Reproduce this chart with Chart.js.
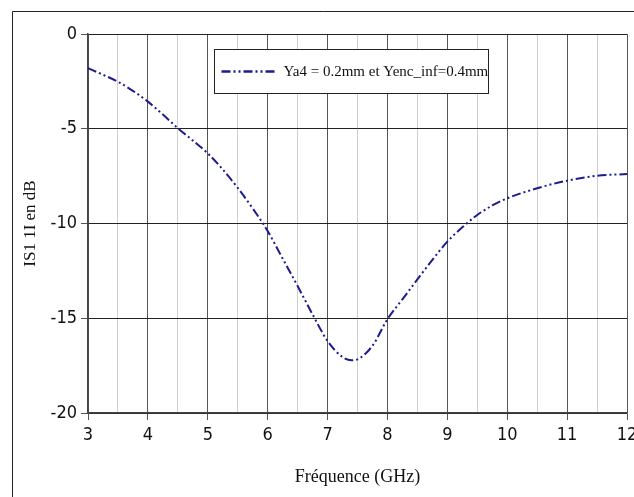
<!DOCTYPE html>
<html>
<head>
<meta charset="utf-8">
<script src="https://cdn.jsdelivr.net/npm/chart.js@4.4.1/dist/chart.umd.min.js"></script>
<style>
    body { margin: 0; background: #fff; }
    #wrap { width: 634px; height: 497px; }
</style>
</head>
<body>
<div id="wrap"><canvas id="s11Chart" width="634" height="497"></canvas></div>
<script>
    "use strict";

    // donnees
    var freq = [3, 3.25, 3.5, 3.75, 4, 4.25, 4.5, 4.75, 5, 5.25, 5.5, 5.75, 6, 6.25, 6.5, 6.75,
        7, 7.25, 7.4, 7.5, 7.75, 8, 8.25, 8.5, 8.75, 9, 9.25, 9.5, 9.75, 10, 10.5, 11, 11.5, 12];
    var s11 = [-1.8, -2.15, -2.52, -3.0, -3.57, -4.25, -4.97, -5.62, -6.3, -7.15, -8.12, -9.2,
        -10.4, -11.85, -13.3, -14.8, -16.2, -17.05, -17.22, -17.17, -16.45, -15.05, -14.0, -12.95,
        -11.92, -10.96, -10.2, -9.55, -9.05, -8.67, -8.14, -7.74, -7.48, -7.39];
    var seriesLabel = "Ya4 = 0.2mm et Yenc_inf=0.4mm";
    var xTicks = [3, 4, 5, 6, 7, 8, 9, 10, 11, 12];
    var yTicks = [0, -5, -10, -15, -20];

    var points = [];
    for (var i = 0; i < freq.length; i++) {
        points.push({x: freq[i], y: s11[i]});
    }

    var lineColor = "#1c1c8c";
    var dash = [9, 3, 2, 3, 2, 3];

    // cadre autour du graphe
    var framePlugin = {
        id: "frame",
        beforeDraw: function (chart) {
            var c = chart.ctx;
            c.save();
            c.strokeStyle = "#222";
            c.lineWidth = 1;
            c.beginPath();
            c.moveTo(12.5, chart.height);
            c.lineTo(12.5, 11.5);
            c.lineTo(chart.width, 11.5);
            c.stroke();
            c.restore();
        }
    };

    // legende dans une boite
    var boxLegend = {
        id: "boxLegend",
        afterDatasetsDraw: function (chart) {
            var c = chart.ctx;
            var a = chart.chartArea;
            var bx = a.left + 126.5, by = a.top + 15.5, bw = 274, bh = 44;
            c.save();
            c.fillStyle = "#fff";
            c.fillRect(bx, by, bw, bh);
            c.strokeStyle = "#222";
            c.lineWidth = 1;
            c.strokeRect(bx, by, bw, bh);
            var my = by + bh / 2;
            c.strokeStyle = lineColor;
            c.lineWidth = 2.5;
            c.setLineDash(dash);
            c.beginPath();
            c.moveTo(bx + 7, my);
            c.lineTo(bx + 61, my);
            c.stroke();
            c.setLineDash([]);
            c.fillStyle = "#111";
            c.font = "15px 'Liberation Serif'";
            c.textBaseline = "middle";
            c.fillText(chart.data.datasets[0].label, bx + 69, my + 1);
            c.restore();
        }
    };

    var ctx = document.getElementById("s11Chart");
    var myChart = new Chart(ctx, {
        type: "line",
        data: {
            datasets: [{
                label: seriesLabel,
                data: points,
                borderColor: lineColor,
                borderWidth: 2,
                borderDash: dash,
                pointRadius: 0,
                fill: false,
                cubicInterpolationMode: "monotone"
            }]
        },
        options: {
            responsive: false,
            animation: false,
            layout: {padding: {top: 34, right: 7, left: 0, bottom: 0}},
            plugins: {
                legend: {display: false},
                tooltip: {enabled: false}
            },
            scales: {
                x: {
                    type: "linear",
                    min: 3,
                    max: 12,
                    afterFit: function (s) {
                        s.height = 84;
                        s.paddingLeft = 0;
                        s.paddingRight = 0;
                    },
                    afterBuildTicks: function (s) {
                        var t = [];
                        for (var v = 3; v <= 12; v += 0.5) t.push({value: v});
                        s.ticks = t;
                    },
                    ticks: {
                        autoSkip: false,
                        maxRotation: 0,
                        padding: 5,
                        color: "#111",
                        font: {family: "'DejaVu Sans Condensed', 'DejaVu Sans'", size: 18},
                        callback: function (v) { return xTicks.indexOf(v) >= 0 ? String(v) : ""; }
                    },
                    grid: {
                        color: function (c) { return c.tick && c.tick.value % 1 === 0 ? "#555" : "#cfcfcf"; },
                        tickColor: function (c) { return c.tick && c.tick.value % 1 === 0 ? "#555" : "rgba(0,0,0,0)"; },
                        tickLength: 7,
                        lineWidth: 1
                    },
                    border: {color: "#444", width: 1.5},
                    title: {
                        display: true,
                        text: "Fréquence (GHz)",
                        color: "#111",
                        font: {family: "'Liberation Serif'", size: 18},
                        padding: {top: 0, bottom: 9}
                    }
                },
                y: {
                    min: -20,
                    max: 0,
                    afterFit: function (s) {
                        s.width = 88;
                        s.paddingTop = 0;
                        s.paddingBottom = 0;
                    },
                    afterBuildTicks: function (s) {
                        s.ticks = yTicks.map(function (v) { return {value: v}; });
                    },
                    ticks: {
                        padding: 4,
                        color: "#111",
                        font: {family: "'DejaVu Sans Condensed', 'DejaVu Sans'", size: 18}
                    },
                    grid: {
                        color: "#222",
                        tickColor: "#555",
                        tickLength: 7,
                        lineWidth: 1
                    },
                    border: {color: "#444", width: 1.5},
                    title: {
                        display: true,
                        text: "IS1 1I en dB",
                        color: "#111",
                        font: {family: "'Liberation Serif'", size: 17},
                        padding: {top: 20, bottom: 0}
                    }
                }
            }
        },
        plugins: [framePlugin, boxLegend]
    });
</script>
</body>
</html>
